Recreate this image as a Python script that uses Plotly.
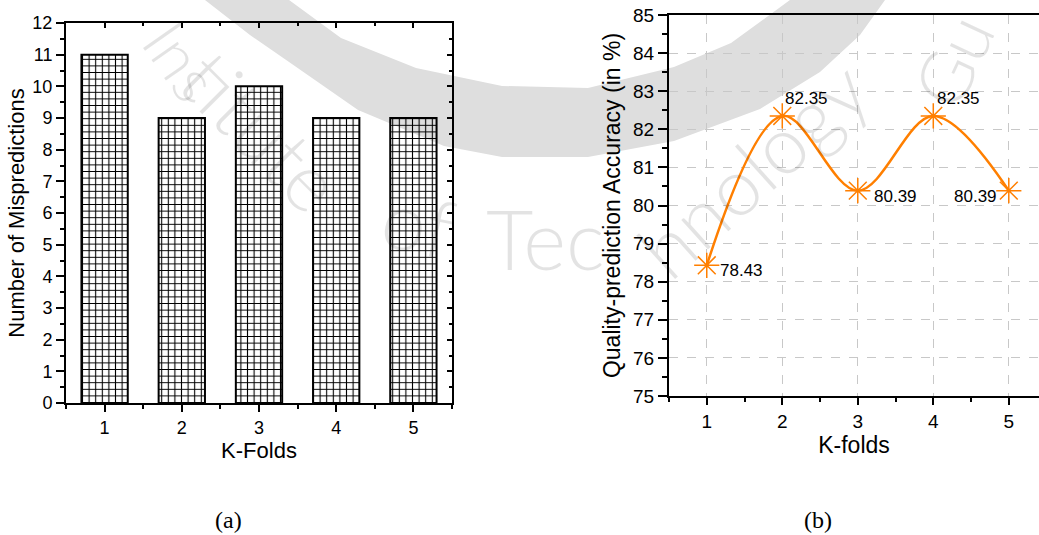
import plotly.graph_objects as go

# ---- data ----
k_folds = [1, 2, 3, 4, 5]
mispredictions = [11, 9, 10, 9, 9]
accuracy = [78.43, 82.35, 80.39, 82.35, 80.39]
accuracy_labels = ["78.43", "82.35", "80.39", "82.35", "80.39"]

FONT = "Liberation Sans, Arial, sans-serif"
ORANGE = "#ff7f00"
WM = "#dedede"                 # watermark grey (shape)
WM_TXT = "rgba(0,0,0,0.11)"    # translucent watermark text
W, H = 1039, 535

fig = go.Figure()

# ---- (a) bar chart ----
fig.add_trace(go.Bar(
    x=k_folds, y=mispredictions, width=0.6,
    marker=dict(color="rgba(0,0,0,0)", line=dict(color="black", width=2),
                pattern=dict(shape="+", size=6.6, solidity=0.3,
                             fgcolor="black", bgcolor="rgba(0,0,0,0)", fillmode="replace")),
    xaxis="x", yaxis="y", showlegend=False, hoverinfo="skip"))
# invisible trace to activate mirrored (inner-tick) axes
fig.add_trace(go.Scatter(x=k_folds, y=mispredictions, mode="markers",
                         marker=dict(opacity=0), xaxis="x3", yaxis="y3",
                         showlegend=False, hoverinfo="skip"))

# ---- (b) line chart ----
fig.add_trace(go.Scatter(
    x=k_folds, y=accuracy, mode="lines+markers",
    line=dict(color=ORANGE, width=2.5, shape="spline", smoothing=1.0),
    marker=dict(symbol="asterisk-open", size=21, line=dict(color=ORANGE, width=1.5)),
    xaxis="x2", yaxis="y2", showlegend=False, hoverinfo="skip"))

label_style = [
    dict(xanchor="left", xshift=11, yshift=-5),
    dict(xanchor="left", xshift=1, yshift=17),
    dict(xanchor="left", xshift=14, yshift=-6),
    dict(xanchor="left", xshift=2, yshift=17),
    dict(xanchor="right", xshift=-10, yshift=-6),
]
annotations = []


def px(x, y):
    return x / W, 1 - y / H


# ---- background watermark (decoration) ----
wm_words = [("Ins", 182, 60, 55, 64), ("titute", 262, 130, 45, 80), ("of", 418, 222, 12, 80),
            ("Tec", 545, 238, 0, 82), ("hnology", 752, 168, -42, 80), ("Gu", 952, 60, -65, 72)]
for word, x0, y0, ang, sz in wm_words:
    xx, yy = px(x0, y0)
    annotations.append(dict(x=xx, y=yy, xref="paper", yref="paper", text=word,
                            showarrow=False, textangle=ang, xanchor="center", yanchor="middle",
                            font=dict(family="Lato, Open Sans, sans-serif", size=sz,
                                      color=WM_TXT, weight=300)))

outer = [(205, 0), (250, 35), (289, 62), (358, 110), (444, 146), (502, 157), (588, 157),
         (674, 141), (760, 109), (820, 72), (860, 35), (885, 0)]
inner = [(790, 0), (731, 43), (674, 67), (588, 88), (502, 86), (416, 68), (341, 38), (289, 0)]
pts = [px(*p) for p in outer + inner]
path = "M " + " L ".join(f"{a:.4f},{b:.4f}" for a, b in pts) + " Z"
shapes = [dict(type="path", path=path, xref="paper", yref="paper", layer="below",
               fillcolor=WM, line=dict(width=0))]

for xv, yv, t, st in zip(k_folds, accuracy, accuracy_labels, label_style):
    annotations.append(dict(x=xv, y=yv, xref="x2", yref="y2", text=t, showarrow=False,
                            font=dict(family=FONT, size=17, color="black"),
                            yanchor="middle", **st))

for txt, cx in (("(a)", 228), ("(b)", 818)):
    xx, yy = px(cx, 520)
    annotations.append(dict(x=xx, y=yy, xref="paper", yref="paper",
                            text=txt, showarrow=False, xanchor="center", yanchor="middle",
                            font=dict(family="Liberation Serif, serif", size=24, color="black")))

axis_common = dict(showline=True, linecolor="black", linewidth=2, zeroline=False,
                   ticks="outside", tickcolor="black", tickwidth=1.5, automargin=False)
minor_out = dict(ticks="outside", tickcolor="black", tickwidth=1.5)
minor_in = dict(ticks="inside", tickcolor="black", tickwidth=1.5)

fig.update_layout(
    template="none",
    width=W, height=H, margin=dict(l=0, r=0, t=0, b=0, pad=0, autoexpand=False),
    paper_bgcolor="white", plot_bgcolor="rgba(0,0,0,0)",
    font=dict(family=FONT, color="black"),
    showlegend=False,
    xaxis=dict(domain=[66 / W, 452 / W], anchor="y", range=[0.5, 5.5],
               tickvals=k_folds, ticklen=7, showgrid=False,
               minor=dict(dtick=0.5, tick0=0.5, ticklen=4, **minor_out),
               tickfont=dict(size=18),
               title=dict(text="K-Folds", font=dict(size=22), standoff=4),
               **axis_common),
    yaxis=dict(domain=[1 - 403 / H, 1 - 23 / H], anchor="x", range=[0, 12],
               dtick=1, ticklen=8, showgrid=False,
               minor=dict(dtick=0.5, ticklen=4, **minor_out),
               tickfont=dict(size=18),
               title=dict(text="Number of Mispredictions", font=dict(size=22), standoff=2),
               **axis_common),
    xaxis3=dict(overlaying="x", side="top", anchor="y3", range=[0.5, 5.5],
                showline=True, linecolor="black", linewidth=2, zeroline=False,
                tickvals=k_folds, ticks="inside", ticklen=5, tickcolor="black", tickwidth=1.5,
                minor=dict(dtick=0.5, tick0=0.5, ticklen=3, **minor_in),
                showticklabels=False, showgrid=False, automargin=False),
    yaxis3=dict(overlaying="y", side="right", anchor="x3", range=[0, 12],
                showline=True, linecolor="black", linewidth=2, zeroline=False,
                dtick=1, ticks="inside", ticklen=5, tickcolor="black", tickwidth=1.5,
                minor=dict(dtick=0.5, ticklen=3, **minor_in),
                showticklabels=False, showgrid=False, automargin=False),
    xaxis2=dict(domain=[669 / W, 1.0], anchor="y2", range=[0.5, 5.4],
                tickvals=k_folds, ticklen=7, mirror=True,
                showgrid=True, gridcolor="#c8c8c8", gridwidth=1, griddash="dash",
                minor=dict(dtick=0.5, tick0=0.5, ticklen=4, **minor_out),
                tickfont=dict(size=19),
                title=dict(text="K-folds", font=dict(size=23), standoff=4),
                **axis_common),
    yaxis2=dict(domain=[1 - 396 / H, 1 - 15 / H], anchor="x2", range=[75, 85],
                dtick=1, ticklen=9, mirror=True,
                showgrid=True, gridcolor="#c8c8c8", gridwidth=1, griddash="dash",
                minor=dict(dtick=0.5, ticklen=5, **minor_out),
                tickfont=dict(size=19),
                title=dict(text="Quality-prediction Accuracy (in %)", font=dict(size=23), standoff=6),
                **axis_common),
    shapes=shapes,
    annotations=annotations,
)

fig.write_html("out.html")
